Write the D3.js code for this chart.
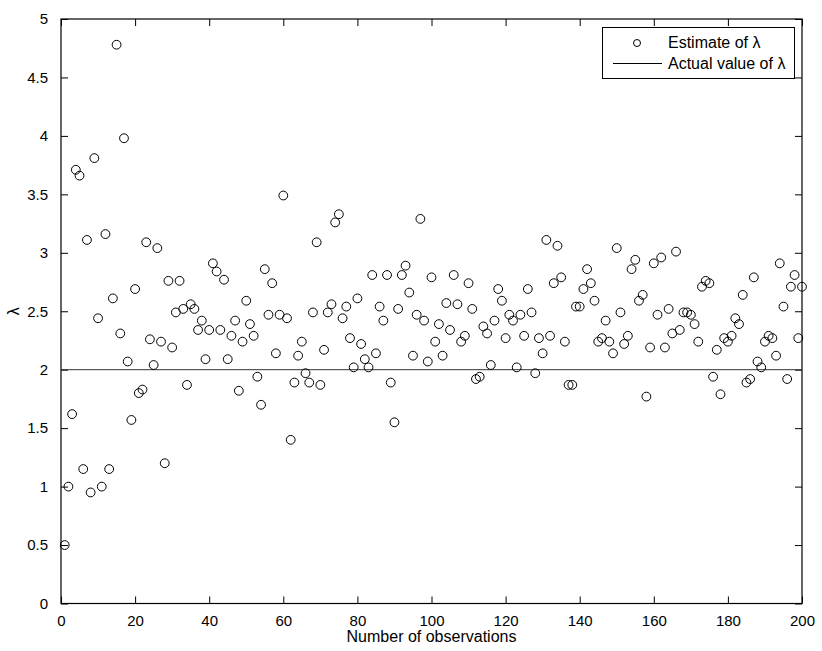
<!DOCTYPE html>
<html>
<head>
<meta charset="utf-8">
<script src="https://cdn.jsdelivr.net/npm/d3@7"></script>
<style>
  html, body { margin: 0; padding: 0; background: #fff; }
  svg { display: block; }
  text { font-family: "Liberation Sans", Arial, Helvetica, sans-serif; fill: #000; }
</style>
</head>
<body>
<svg id="chart" width="822" height="651"></svg>
<script>
// ---- data ----
const estimates = [
  0.50, 1.00, 1.62, 3.71, 3.66, 1.15, 3.11, 0.95, 3.81, 2.44,
  1.00, 3.16, 1.15, 2.61, 4.78, 2.31, 3.98, 2.07, 1.57, 2.69,
  1.80, 1.83, 3.09, 2.26, 2.04, 3.04, 2.24, 1.20, 2.76, 2.19,
  2.49, 2.76, 2.52, 1.87, 2.56, 2.52, 2.34, 2.42, 2.09, 2.34,
  2.91, 2.84, 2.34, 2.77, 2.09, 2.29, 2.42, 1.82, 2.24, 2.59,
  2.39, 2.29, 1.94, 1.70, 2.86, 2.47, 2.74, 2.14, 2.47, 3.49,
  2.44, 1.40, 1.89, 2.12, 2.24, 1.97, 1.89, 2.49, 3.09, 1.87,
  2.17, 2.49, 2.56, 3.26, 3.33, 2.44, 2.54, 2.27, 2.02, 2.61,
  2.22, 2.09, 2.02, 2.81, 2.14, 2.54, 2.42, 2.81, 1.89, 1.55,
  2.52, 2.81, 2.89, 2.66, 2.12, 2.47, 3.29, 2.42, 2.07, 2.79,
  2.24, 2.39, 2.12, 2.57, 2.34, 2.81, 2.56, 2.24, 2.29, 2.74,
  2.52, 1.92, 1.94, 2.37, 2.31, 2.04, 2.42, 2.69, 2.59, 2.27,
  2.47, 2.42, 2.02, 2.47, 2.29, 2.69, 2.49, 1.97, 2.27, 2.14,
  3.11, 2.29, 2.74, 3.06, 2.79, 2.24, 1.87, 1.87, 2.54, 2.54,
  2.69, 2.86, 2.74, 2.59, 2.24, 2.27, 2.42, 2.24, 2.14, 3.04,
  2.49, 2.22, 2.29, 2.86, 2.94, 2.59, 2.64, 1.77, 2.19, 2.91,
  2.47, 2.96, 2.19, 2.52, 2.31, 3.01, 2.34, 2.49, 2.49, 2.47,
  2.39, 2.24, 2.71, 2.76, 2.74, 1.94, 2.17, 1.79, 2.27, 2.24,
  2.29, 2.44, 2.39, 2.64, 1.89, 1.92, 2.79, 2.07, 2.02, 2.24,
  2.29, 2.27, 2.12, 2.91, 2.54, 1.92, 2.71, 2.81, 2.27, 2.71
];
const actualValue = 2;
const xTicks = [0, 20, 40, 60, 80, 100, 120, 140, 160, 180, 200];
const yTicks = [0, 0.5, 1, 1.5, 2, 2.5, 3, 3.5, 4, 4.5, 5];
const xLabel = "Number of observations";
const yLabel = "λ";
const legendLabels = ["Estimate of λ", "Actual value of λ"];

// ---- layout ----
const L = 61, R = 802, T = 19, B = 603.5;
const svg = d3.select("#chart");
const x = d3.scaleLinear().domain([0, 200]).range([L, R]);
const y = d3.scaleLinear().domain([0, 5]).range([B, T]);
const TL = 7;
const FS = 15;

// axes (ticks inward, mirrored)
const gx = svg.append("g").attr("transform", `translate(0,${B})`)
  .call(d3.axisBottom(x).tickValues(xTicks).tickSizeInner(-TL).tickSizeOuter(0).tickPadding(TL + 10).tickFormat(d3.format("d")));
const gxt = svg.append("g").attr("transform", `translate(0,${T})`)
  .call(d3.axisTop(x).tickValues(xTicks).tickSizeInner(-TL).tickSizeOuter(0).tickFormat(""));
const gy = svg.append("g").attr("transform", `translate(${L},0)`)
  .call(d3.axisLeft(y).tickValues(yTicks).tickSizeInner(-TL).tickSizeOuter(0).tickPadding(TL + 6).tickFormat(d => String(d)));
const gyr = svg.append("g").attr("transform", `translate(${R},0)`)
  .call(d3.axisRight(y).tickValues(yTicks).tickSizeInner(-TL).tickSizeOuter(0).tickFormat(""));

[gx, gxt, gy, gyr].forEach(g => {
  g.select(".domain").remove();
  g.selectAll(".tick line").attr("stroke", "#000").attr("stroke-width", 1);
  g.selectAll("text").attr("font-size", FS).attr("font-family", "Liberation Sans, Arial, sans-serif").attr("fill", "#000");
});
gx.selectAll("text").attr("dy", "0.35em");

// frame
svg.append("rect").attr("x", L).attr("y", T).attr("width", R - L).attr("height", B - T)
  .attr("fill", "none").attr("stroke", "#000").attr("stroke-width", 1.2);

// actual value line
svg.append("line")
  .attr("x1", x(0)).attr("x2", x(200))
  .attr("y1", y(actualValue)).attr("y2", y(actualValue))
  .attr("stroke", "#333").attr("stroke-width", 1);

// estimates
svg.append("g").selectAll("circle").data(estimates).join("circle")
  .attr("cx", (d, i) => x(i + 1))
  .attr("cy", d => y(d))
  .attr("r", 4.4)
  .attr("fill", "none")
  .attr("stroke", "#000")
  .attr("stroke-width", 1);

// axis labels
svg.append("text").attr("x", (L + R) / 2).attr("y", 642)
  .attr("text-anchor", "middle").attr("font-size", FS + 1).text(xLabel);
svg.append("text").attr("transform", `translate(19,${(T + B) / 2}) rotate(-90)`)
  .attr("text-anchor", "middle").attr("font-size", FS + 1).text(yLabel);

// legend
const lg = svg.append("g");
lg.append("rect").attr("x", 602.5).attr("y", 27.5).attr("width", 192).attr("height", 51)
  .attr("fill", "#fff").attr("stroke", "#000").attr("stroke-width", 1);
lg.append("circle").attr("cx", 637).attr("cy", 43).attr("r", 3.5)
  .attr("fill", "none").attr("stroke", "#000").attr("stroke-width", 1);
lg.append("line").attr("x1", 613).attr("x2", 662).attr("y1", 63.5).attr("y2", 63.5)
  .attr("stroke", "#000").attr("stroke-width", 1);
lg.append("text").attr("x", 668).attr("y", 47.5).attr("font-size", FS + 1).text(legendLabels[0]);
lg.append("text").attr("x", 668).attr("y", 69).attr("font-size", FS + 1).text(legendLabels[1]);
</script>
</body>
</html>
